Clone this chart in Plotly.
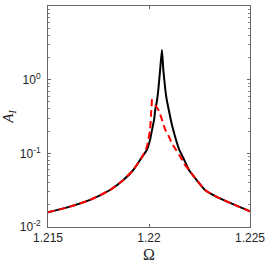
import plotly.graph_objects as go

# Black: exact response
omega_exact = [1.21500, 1.21600, 1.21708, 1.21807, 1.21873, 1.21922, 1.21964, 1.21989,
               1.22005, 1.22015, 1.22025, 1.22031, 1.22040, 1.22046, 1.22055, 1.22064,
               1.22071, 1.22081, 1.22088, 1.22098, 1.22108, 1.22120, 1.22134, 1.22150,
               1.22170, 1.22198, 1.22240, 1.22277, 1.22335, 1.22416, 1.22500]
amp_exact = [0.0158, 0.0186, 0.0233, 0.0318, 0.0435, 0.0594, 0.0880, 0.111,
             0.152, 0.208, 0.284, 0.388, 0.530, 0.724, 1.35, 2.53,
             1.35, 0.724, 0.530, 0.388, 0.284, 0.208, 0.152, 0.111,
             0.0865, 0.0594, 0.0420, 0.0318, 0.0257, 0.0204, 0.0163]

# Red dashed: approximation (two branches)
omega_left = [1.21500, 1.21600, 1.21708, 1.21807, 1.21873, 1.21922, 1.21964, 1.21989,
              1.22005, 1.22010, 1.22015]
amp_left = [0.0158, 0.0186, 0.0233, 0.0318, 0.0435, 0.0594, 0.0880, 0.122,
            0.208, 0.330, 0.560]
omega_right = [1.22030, 1.22046, 1.22060, 1.22079, 1.22096, 1.22112, 1.22135, 1.22153,
               1.22175, 1.22198, 1.22240, 1.22277, 1.22335, 1.22416, 1.22500]
amp_right = [0.453, 0.390, 0.310, 0.215, 0.175, 0.140, 0.110, 0.092,
             0.072, 0.0594, 0.0420, 0.0318, 0.0257, 0.0204, 0.0163]

x_ticks = [1.215, 1.22, 1.225]
x_labels = ["1.215", "1.22", "1.225"]
y_ticks = [0.01, 0.1, 1, 10]
y_labels = ["10<sup>-2</sup>", "10<sup>-1</sup>", "10<sup>0</sup>", "10<sup>1</sup>"]
y_minor = [m * 10 ** e for e in (-2, -1, 0) for m in range(2, 10)]

fig = go.Figure()
fig.add_trace(go.Scatter(x=omega_exact, y=amp_exact, mode="lines",
                         line=dict(color="black", width=2, shape="spline", smoothing=0.5),
                         showlegend=False))
fig.add_trace(go.Scatter(x=omega_left, y=amp_left, mode="lines",
                         line=dict(color="red", width=2, dash="7px,4px", shape="spline", smoothing=0.5),
                         showlegend=False))
fig.add_trace(go.Scatter(x=omega_right, y=amp_right, mode="lines",
                         line=dict(color="red", width=2, dash="7px,4px", shape="spline", smoothing=0.5),
                         showlegend=False))

axis_font = dict(family="Liberation Sans, Arial, sans-serif", size=12, color="#262626")
fig.update_layout(
    width=266, height=266,
    margin=dict(l=48, r=16, t=6, b=39, autoexpand=False),
    paper_bgcolor="white", plot_bgcolor="white",
    xaxis=dict(range=[1.215, 1.225], tickvals=x_ticks, ticktext=x_labels,
               ticks="inside", ticklen=3, tickcolor="#666", showline=True,
               linecolor="#666", linewidth=1, mirror="ticks", showgrid=False,
               zeroline=False, tickfont=axis_font, ticklabeloverflow="allow",
               automargin=False,
               title=dict(text="Ω", font=dict(family="Liberation Serif, serif", size=16, color="#262626"),
                          standoff=4)),
    yaxis=dict(type="log", range=[-2, 1], tickvals=y_ticks, ticktext=y_labels,
               ticks="inside", ticklen=3, tickcolor="#666", showline=True,
               linecolor="#666", linewidth=1, mirror="ticks", showgrid=False,
               zeroline=False, tickfont=axis_font, ticklabelstandoff=4,
               automargin=False,
               minor=dict(tickvals=y_minor, ticks="inside", ticklen=2, tickcolor="#888", showgrid=False),
               title=dict(text="<i>A<sub>I</sub></i>",
                          font=dict(family="Liberation Serif, serif", size=15, color="#262626"),
                          standoff=4)),
)
fig.write_html("out.html", config={"displayModeBar": False},
               post_script="document.body.style.margin='0';document.body.style.overflow='hidden';")
